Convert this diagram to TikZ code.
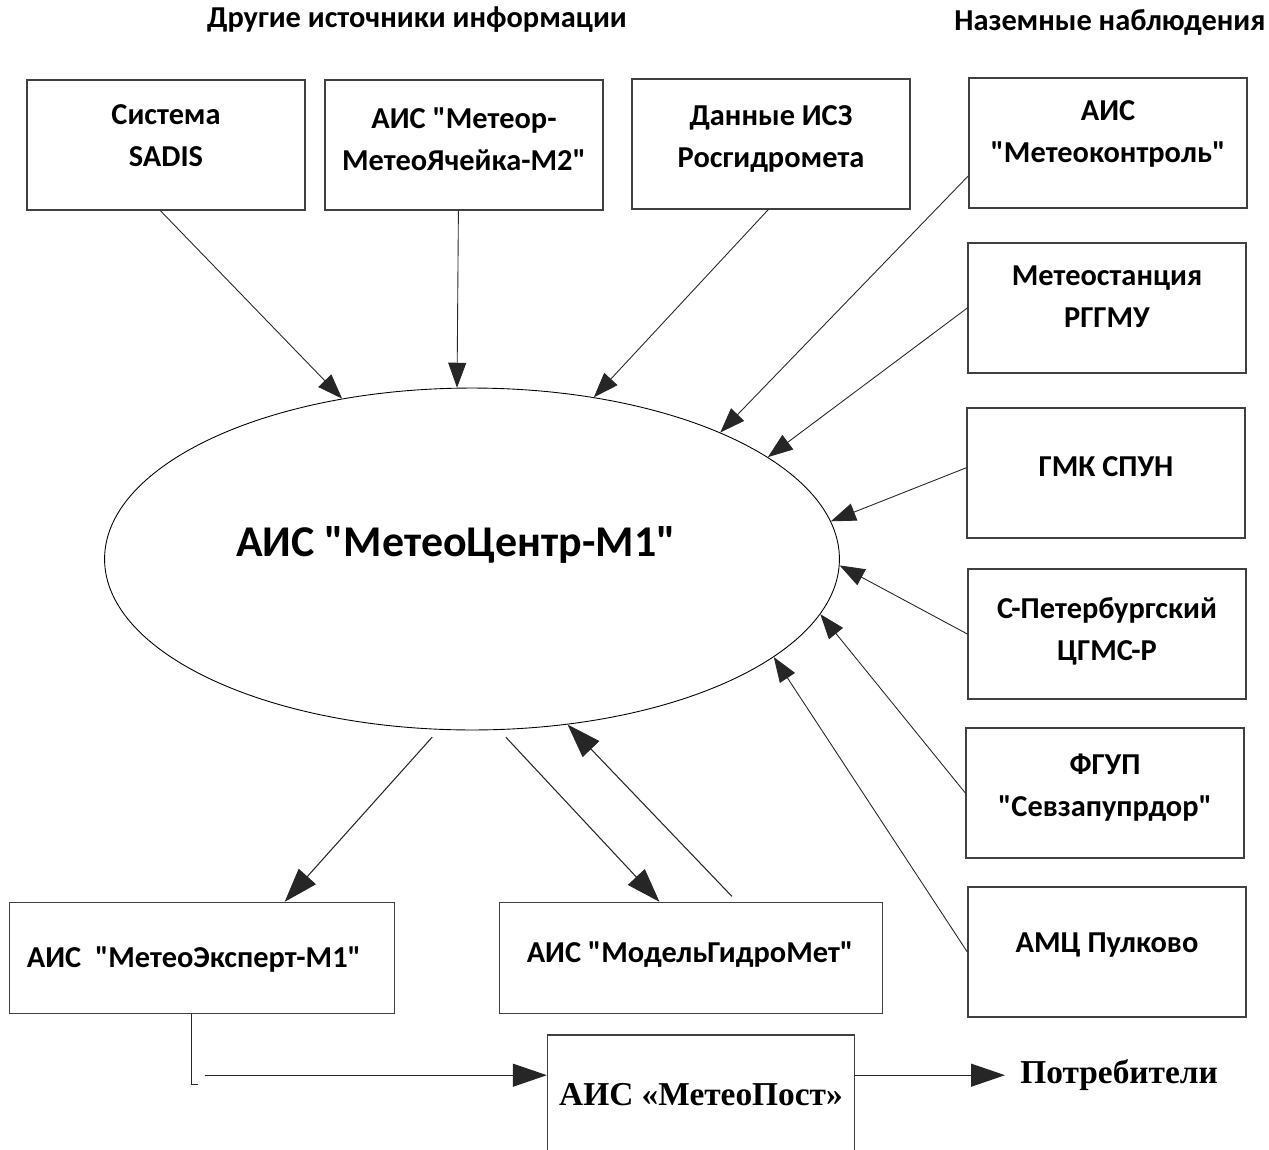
\documentclass[tikz,border=0pt]{standalone}
\usepackage{fontspec}
\setmainfont{Carlito}[Ligatures=TeXOff]
\newfontfamily\timesfont{Liberation Serif}
\usetikzlibrary{calc}
\usetikzlibrary{arrows.meta}
\usetikzlibrary{shapes.geometric}
\newcommand{\dq}{\char34\relax}

\begin{document}
\begin{tikzpicture}[
x=0.02cm,y=-0.02cm,
SrcBox/.style={draw=black!75,line width=0.8pt,minimum width=5.56cm,minimum height=2.6cm,inner sep=0pt},
LowBox/.style={draw=black!75,line width=0.8pt,minimum width=7.68cm,minimum height=2.22cm,inner sep=0pt},
BoxText/.style={font=\bfseries\fontsize{17.3}{24}\selectfont,align=center,inner sep=0pt},
Feed/.style={draw=black!85,line width=0.5pt,-{Triangle[length=5mm,width=3.6mm]}},
BigFeed/.style={draw=black!85,line width=0.6pt,-{Triangle[length=6.8mm,width=4.6mm]}},
every node/.style={text=black}
]
\useasboundingbox (0,0) rectangle (1269,1150);

% headings
\node[BoxText] (other-h) at (417,20) {Другие источники информации};
\node[BoxText] (ground-h) at (1110,22) {Наземные наблюдения};

% upper row of sources
\node[SrcBox] (sadis) at (166,145) {};
\node[BoxText] (sadis-t) at (166,136) {Система\\SADIS};
\node[SrcBox] (meteor) at (464,145) {};
\node[BoxText] (meteor-t) at (464,139) {АИС \dq Метеор-\\МетеоЯчейка-М2\dq};
\node[SrcBox] (isz) at (771,144) {};
\node[BoxText] (isz-t) at (771,139) {Данные ИСЗ\\Росгидромета};

% ground observations
\node[SrcBox] (mkontrol) at (1108,143) {};
\node[BoxText] (mkontrol-t) at (1108,134) {АИС\\\dq Метеоконтроль\dq};
\node[SrcBox] (rggmu) at (1107,308) {};
\node[BoxText] (rggmu-t) at (1107,297) {Метеостанция\\РГГМУ};
\node[SrcBox] (gmk) at (1106,473) {};
\node[BoxText] (gmk-t) at (1106,467) {ГМК СПУН};
\node[SrcBox] (spb) at (1107,634) {};
\node[BoxText] (spb-t) at (1107,631) {С-Петербургский\\ЦГМС-Р};
\node[SrcBox] (fgup) at (1105,793) {};
\node[BoxText] (fgup-t) at (1105,788) {ФГУП\\\dq Севзапупрдор\dq};
\node[SrcBox] (pulkovo) at (1107,952) {};
\node[BoxText] (pulkovo-t) at (1107,945) {АМЦ Пулково};

% central system
\node[ellipse,draw=black,line width=0.5pt,minimum width=14.7cm,minimum height=6.84cm,inner sep=0pt] (center) at (472,559) {};
\node[BoxText,font=\bfseries\fontsize{25}{30}\selectfont] (center-t) at (456,545) {АИС \dq МетеоЦентр-М1\dq};

% lower row
\node[LowBox,minimum width=7.7cm] (expert) at (202,958) {};
\node[BoxText] (expert-t) at (194,960) {АИС~~\dq МетеоЭксперт-М1\dq};
\node[LowBox,minimum width=7.66cm] (model) at (691,958) {};
\node[BoxText] (model-t) at (690,955) {АИС \dq МодельГидроМет\dq};
\node[LowBox,minimum width=6.14cm,minimum height=2.6cm] (post) at (701,1100) {};
\node[BoxText,font=\timesfont\bfseries\fontsize{19}{24}\selectfont] (post-t) at (701,1095) {АИС «МетеоПост»};
\node[BoxText,font=\timesfont\bfseries\fontsize{19}{24}\selectfont,anchor=west] (potreb) at (1020,1075) {Потребители};

% sources -> centre
\draw[Feed] ($(sadis.south west)!0.48!(sadis.south east)$) -- (center.129);
\draw[Feed] ($(meteor.south west)!0.48!(meteor.south east)$) -- (center.95);
\draw[Feed] ($(isz.south west)!0.49!(isz.south east)$) -- (center.53);
\draw[Feed] ($(mkontrol.north west)!0.75!(mkontrol.south west)$) -- (center.27);
\draw[Feed] (rggmu.west) -- (center.19);
\draw[Feed] ($(gmk.north west)!0.46!(gmk.south west)$) -- (center.6);
\draw[Feed] (spb.west) -- (center.-1);
\draw[Feed] (fgup.west) -- (center.-9);
\draw[Feed] (pulkovo.west) -- (center.-18);

% centre <-> lower systems
\draw[BigFeed,shorten <=2mm] (center.-101) -- ($(expert.north west)!0.714!(expert.north east)$);
\draw[BigFeed,shorten <=2mm] (center.-81) -- ($(model.north west)!0.418!(model.north east)$);
\draw[BigFeed,shorten <=1.5mm] ($(model.north west)!0.62!(model.north east)$) -- (center.-60);

% to MeteoPost and consumers
\coordinate (expert-out) at ($(expert.south west)!0.473!(expert.south east)$);
\coordinate (elbow) at ($(expert-out)+(0,70)$);
\coordinate (joint) at ($(expert-out)+(13,61)$);
\coordinate (out-tip) at ($(joint -| potreb.west)+(-15,0)$);
\draw[draw=black!85,line width=0.5pt] (expert-out) -- (elbow) -- ++(6,0);
\draw[BigFeed] (joint) -- (joint -| post.west);
\draw[BigFeed] (joint -| post.east) -- (out-tip);
\end{tikzpicture}
\end{document}
